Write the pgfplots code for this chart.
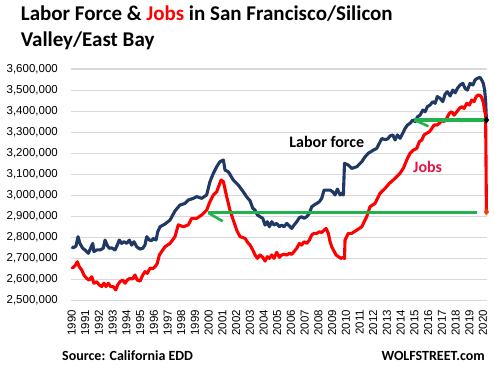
\documentclass[border=0pt]{standalone}
\usepackage{fontspec}
\setmainfont{Liberation Sans}
\newfontfamily\carlito{Carlito}
\usepackage{pgfplots}
\pgfplotsset{compat=1.18}
\definecolor{navy}{RGB}{31,56,100}
\definecolor{jred}{RGB}{255,0,0}
\definecolor{gline}{RGB}{34,177,76}
\definecolor{jlabel}{RGB}{232,20,70}
\definecolor{jmark}{RGB}{255,60,0}
\definecolor{gridc}{RGB}{217,217,217}
\begin{document}
\begin{tikzpicture}
\useasboundingbox (-71pt,-69.3pt) rectangle (423pt,300.7pt);
\begin{axis}[
  at={(0pt,0pt)}, anchor=south west,
  scale only axis, width=416pt, height=231.7pt,
  xmin=1989.958, xmax=2020.292,
  ymin=2500000, ymax=3600000,
  axis line style={draw=none},
  ymajorgrids, major grid style={gridc, line width=1.1pt},
  ytick={2500000,2600000,...,3600000},
  xtick={1990,1991,...,2020},
  major tick length=0pt,
  scaled y ticks=false,
  /pgf/number format/assume math mode=true,
  tick label style={font=\fontsize{11.5}{12}\selectfont, inner sep=0pt},
  y tick label style={/pgf/number format/fixed, /pgf/number format/1000 sep={,}},
  x tick label style={/pgf/number format/1000 sep={}},
  yticklabel style={anchor=east},
  xticklabel style={rotate=90, anchor=east},
  yticklabel shift=13pt,
  xticklabel shift=9pt,
  clip=false,
]
% Labor force
\addplot[navy, line width=3.1pt, line join=round] coordinates {
(1990.00,2756000)(1990.12,2751000)(1990.32,2759000)(1990.47,2804000)(1990.61,2772000)
(1990.81,2749000)(1990.98,2741000)(1991.22,2725000)(1991.39,2749000)(1991.54,2772000)
(1991.63,2733000)(1991.83,2741000)(1992.07,2741000)(1992.31,2749000)(1992.44,2788000)
(1992.61,2761000)(1992.75,2749000)(1992.92,2751000)(1993.17,2741000)(1993.33,2764000)
(1993.48,2788000)(1993.65,2772000)(1993.82,2780000)(1994.02,2772000)(1994.21,2788000)
(1994.38,2764000)(1994.55,2780000)(1994.75,2756000)(1994.99,2745000)(1995.19,2749000)
(1995.35,2764000)(1995.48,2804000)(1995.67,2788000)(1995.84,2785000)(1995.96,2796000)
(1996.16,2788000)(1996.28,2827000)(1996.45,2851000)(1996.81,2864000)(1997.18,2883000)
(1997.54,2926000)(1997.90,2954000)(1998.27,2962000)(1998.51,2978000)(1998.88,2986000)
(1999.12,2994000)(1999.49,2986000)(1999.85,3002000)(2000.09,3065000)(2000.34,3105000)
(2000.58,3136000)(2000.82,3160000)(2001.07,3168000)(2001.19,3120000)(2001.43,3112000)
(2001.79,3073000)(2002.16,3049000)(2002.52,3017000)(2002.80,2990000)(2003.01,2975000)
(2003.21,2939000)(2003.38,2930000)(2003.55,2907000)(2003.74,2899000)(2003.94,2891000)
(2004.11,2859000)(2004.27,2875000)(2004.42,2851000)(2004.60,2875000)(2004.76,2859000)
(2004.96,2867000)(2005.15,2851000)(2005.32,2859000)(2005.49,2851000)(2005.69,2867000)
(2005.88,2855000)(2006.05,2843000)(2006.22,2859000)(2006.42,2875000)(2006.61,2894000)
(2006.78,2899000)(2006.95,2891000)(2007.15,2899000)(2007.34,2915000)(2007.51,2946000)
(2007.68,2954000)(2007.88,2962000)(2008.07,2970000)(2008.24,2986000)(2008.41,3025000)
(2008.61,3025000)(2008.85,3025000)(2009.04,3017000)(2009.21,3002000)(2009.38,3030000)
(2009.58,3002000)(2009.70,3010000)(2009.82,3002000)(2009.90,3152000)(2010.18,3144000)
(2010.43,3128000)(2010.80,3136000)(2011.16,3160000)(2011.40,3183000)(2011.64,3200000)
(2012.01,3215000)(2012.25,3223000)(2012.62,3270000)(2012.86,3265000)(2013.05,3268000)
(2013.22,3282000)(2013.42,3287000)(2013.59,3263000)(2013.76,3287000)(2013.95,3271000)
(2014.15,3295000)(2014.32,3318000)(2014.49,3334000)(2014.68,3342000)(2014.88,3358000)
(2015.05,3350000)(2015.22,3373000)(2015.41,3381000)(2015.61,3405000)(2015.78,3397000)
(2015.94,3421000)(2016.14,3429000)(2016.34,3445000)(2016.51,3437000)(2016.67,3469000)
(2016.87,3461000)(2017.07,3445000)(2017.24,3481000)(2017.40,3492000)(2017.60,3472000)
(2017.80,3500000)(2017.97,3487000)(2018.13,3508000)(2018.33,3524000)(2018.53,3532000)
(2018.69,3508000)(2018.86,3500000)(2019.06,3532000)(2019.26,3524000)(2019.42,3548000)
(2019.59,3556000)(2019.79,3560000)(2019.93,3545000)(2020.03,3530000)(2020.12,3500000)
(2020.19,3450000)(2020.25,3358000)
};
% Jobs
\addplot[jred, line width=3.1pt, line join=round] coordinates {
(1990.00,2661000)(1990.08,2656000)(1990.25,2666000)(1990.42,2685000)(1990.56,2661000)
(1990.74,2646000)(1990.90,2622000)(1991.10,2606000)(1991.29,2598000)(1991.47,2614000)
(1991.63,2583000)(1991.83,2590000)(1992.02,2575000)(1992.20,2567000)(1992.36,2583000)
(1992.51,2567000)(1992.68,2583000)(1992.85,2567000)(1993.04,2567000)(1993.22,2551000)
(1993.36,2575000)(1993.53,2590000)(1993.73,2598000)(1993.90,2583000)(1994.06,2598000)
(1994.26,2606000)(1994.46,2603000)(1994.62,2622000)(1994.79,2598000)(1994.99,2593000)
(1995.19,2622000)(1995.35,2638000)(1995.52,2630000)(1995.72,2654000)(1995.92,2652000)
(1996.08,2661000)(1996.25,2677000)(1996.40,2717000)(1996.81,2756000)(1997.18,2772000)
(1997.54,2804000)(1997.78,2860000)(1998.15,2851000)(1998.51,2860000)(1998.76,2891000)
(1999.12,2891000)(1999.49,2907000)(1999.85,2930000)(2000.09,2970000)(2000.34,3002000)
(2000.58,3017000)(2000.90,3073000)(2001.07,3065000)(2001.31,2994000)(2001.55,2930000)
(2001.79,2883000)(2002.04,2835000)(2002.28,2804000)(2002.65,2796000)(2002.89,2772000)
(2003.01,2765000)(2003.21,2741000)(2003.38,2717000)(2003.55,2701000)(2003.74,2717000)
(2003.94,2706000)(2004.11,2688000)(2004.27,2709000)(2004.42,2701000)(2004.60,2717000)
(2004.76,2701000)(2004.96,2730000)(2005.15,2706000)(2005.32,2717000)(2005.49,2720000)
(2005.69,2717000)(2005.88,2725000)(2006.05,2720000)(2006.22,2733000)(2006.42,2749000)
(2006.61,2772000)(2006.78,2764000)(2006.95,2780000)(2007.15,2772000)(2007.34,2788000)
(2007.51,2812000)(2007.68,2820000)(2007.88,2820000)(2008.07,2827000)(2008.24,2824000)
(2008.41,2835000)(2008.56,2843000)(2008.72,2820000)(2008.85,2780000)(2008.97,2756000)
(2009.09,2741000)(2009.29,2717000)(2009.46,2709000)(2009.63,2701000)(2009.82,2706000)
(2009.90,2700000)(2009.94,2788000)(2010.18,2820000)(2010.43,2820000)(2010.80,2835000)
(2011.16,2851000)(2011.52,2899000)(2011.76,2946000)(2012.13,2962000)(2012.49,3010000)
(2012.86,3033000)(2013.17,3057000)(2013.59,3081000)(2013.95,3105000)(2014.20,3130000)
(2014.44,3168000)(2014.68,3200000)(2014.92,3215000)(2015.17,3223000)(2015.36,3255000)
(2015.54,3263000)(2015.70,3287000)(2015.90,3295000)(2016.09,3302000)(2016.27,3318000)
(2016.43,3334000)(2016.63,3334000)(2016.82,3342000)(2017.00,3358000)(2017.16,3350000)
(2017.36,3366000)(2017.55,3390000)(2017.72,3397000)(2017.89,3381000)(2018.09,3397000)
(2018.28,3413000)(2018.45,3421000)(2018.62,3413000)(2018.82,3437000)(2019.00,3429000)
(2019.18,3453000)(2019.35,3445000)(2019.50,3469000)(2019.66,3477000)(2019.84,3472000)
(2019.93,3460000)(2020.03,3440000)(2020.12,3400000)(2020.19,3380000)(2020.25,2922000)
};
% green arrows
\addplot[gline, line width=3.2pt] coordinates {(2015.00,3358000)(2020.17,3358000)};
\addplot[gline, line width=2.6pt] coordinates {(2015.00,3358000)(2016.02,3328000)};
\addplot[gline, line width=3.2pt] coordinates {(1999.97,2917000)(2019.57,2917000)};
\addplot[gline, line width=2.6pt] coordinates {(1999.97,2917000)(2001.02,2877000)};
% end markers
\addplot[only marks, mark=diamond*, mark size=3.2pt, black] coordinates {(2020.25,3358000)};
\addplot[only marks, mark=diamond*, mark size=3.2pt, jmark] coordinates {(2020.25,2922000)};
% labels
\node[font=\carlito\bfseries\fontsize{16}{18}\selectfont, black] at (axis cs:2008.61,3252000) {Labor force};
\node[font=\carlito\bfseries\fontsize{16}{18}\selectfont, jlabel] at (axis cs:2015.96,3136000) {Jobs};
\end{axis}
\node[anchor=base west, inner sep=0pt, font=\carlito\bfseries\fontsize{21}{24}\selectfont] at (-50.3pt,280pt) {Labor Force \& \textcolor{red}{Jobs} in San Francisco/Silicon};
\node[anchor=base west, inner sep=0pt, font=\carlito\bfseries\fontsize{21}{24}\selectfont] at (-50.3pt,254pt) {Valley/East Bay};
\node[anchor=base west, inner sep=0pt, font=\carlito\bfseries\fontsize{14}{16}\selectfont] at (-9pt,-59.3pt) {Source: California EDD};
\node[anchor=base east, inner sep=0pt, font=\carlito\bfseries\fontsize{14}{16}\selectfont] at (414pt,-59.3pt) {WOLFSTREET.com};
\end{tikzpicture}
\end{document}
